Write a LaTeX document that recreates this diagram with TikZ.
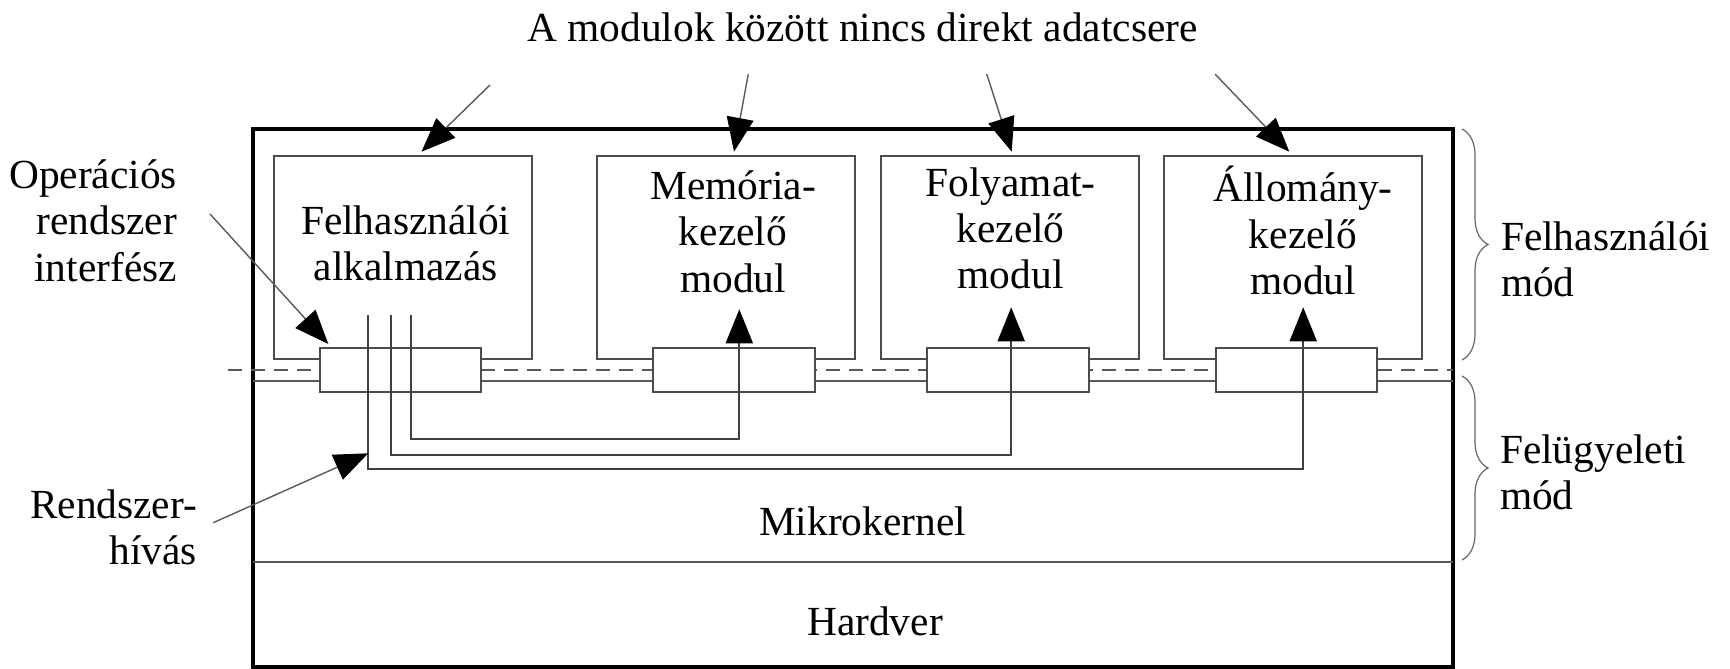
\documentclass[tikz,border=0pt]{standalone}
\usepackage{fontspec}
\setmainfont{Liberation Serif}
\usetikzlibrary{arrows.meta,decorations.pathreplacing}
\begin{document}
\begin{tikzpicture}[x=0.5pt,y=-0.5pt,
  every node/.style={inner sep=0pt, outer sep=0pt},
  lbl/.style={font=\fontsize{20.7}{23.2}\selectfont},
  frame/.style={draw=black, line width=2pt, minimum width=600pt, minimum height=269pt},
  modbox/.style={draw=black!70, line width=1pt, minimum width=129pt, minimum height=101.5pt},
  ifbox/.style={draw=black!70, fill=white, line width=1pt, minimum width=80.75pt, minimum height=22pt},
  rail/.style={draw=black!65, line width=1pt},
  call/.style={draw=black!75, line width=1pt},
  bigtip/.style={-{Triangle[length=17pt,width=13.5pt,color=black,fill=black]}},
  pointer/.style={draw=black!65, line width=0.7pt, bigtip},
  upcall/.style={call, bigtip},
  modebrace/.style={draw=black!60, line width=0.6pt, decorate, decoration={brace, amplitude=13pt}}
]
\useasboundingbox (0,0) rectangle (1730,669);

% operating system frame
\node[frame] (os) at (853.3,397.5) {};

% modules running in user mode
\node[modbox] (app) at (402.5,257.5) {};
\node[modbox] (mem) at (726.3,257.5) {};
\node[modbox] (proc) at (1010,257.5) {};
\node[modbox] (file) at (1293.3,257.5) {};

% boundary between user mode and supervisor mode
\coordinate (dashL) at (228,370);
\coordinate (dashR) at (1453.3,370);
\coordinate (solidL) at (253.3,380.7);
\coordinate (solidR) at (1453.3,380.7);
\draw[rail, dash pattern=on 7pt off 4.5pt] (dashL) -- (dashR);
\draw[rail] (solidL) -- (solidR);

% kernel / hardware separator
\coordinate (hwL) at (253.3,562);
\coordinate (hwR) at (1453.3,562);
\draw[rail] (hwL) -- (hwR);

% OS interface of every module
\node[ifbox] (ifapp) at (400.5,370.3) {};
\node[ifbox] (ifmem) at (734.2,370.3) {};
\node[ifbox] (ifproc) at (1008.1,370.3) {};
\node[ifbox] (iffile) at (1296.7,370.3) {};

% system calls routed through the microkernel
\coordinate (srcA) at (410.7,315);
\coordinate (srcB) at (390.7,315);
\coordinate (srcC) at (368.3,315);
\coordinate (jA) at (739.3,439.3);
\coordinate (jB) at (1011.2,455);
\coordinate (jC) at (1303.2,469);
\coordinate (tipMem) at (739.3,309.3);
\coordinate (tipProc) at (1011.2,307.3);
\coordinate (tipFile) at (1303.2,307.3);
\draw[upcall] (srcA) |- (jA) -- (tipMem);
\draw[upcall] (srcB) |- (jB) -- (tipProc);
\draw[upcall] (srcC) |- (jC) -- (tipFile);

% pointers from the caption to the modules
\coordinate (capA) at (490,85);
\coordinate (capB) at (748.3,74);
\coordinate (capC) at (986.7,74);
\coordinate (capD) at (1215,74);
\coordinate (hitA) at (421.5,151.7);
\coordinate (hitB) at (734,151.7);
\coordinate (hitC) at (1011.7,151.7);
\coordinate (hitD) at (1289.3,151.7);
\draw[pointer] (capA) -- (hitA);
\draw[pointer] (capB) -- (hitB);
\draw[pointer] (capC) -- (hitC);
\draw[pointer] (capD) -- (hitD);

% side labels and their pointers
\node[lbl, anchor=base east] (osif) at (177,188.3)
  {\begin{tabular}[t]{@{}r@{}}Operációs\\rendszer\\interfész\end{tabular}};
\node[lbl, anchor=base east] (syscall) at (197,518.3)
  {\begin{tabular}[t]{@{}r@{}}Rendszer-\\hívás\end{tabular}};
\coordinate (osifFrom) at (210,214);
\coordinate (osifTo) at (328.3,344);
\coordinate (syscallFrom) at (213.3,522.7);
\coordinate (syscallTo) at (368.3,453.3);
\draw[pointer] (osifFrom) -- (osifTo);
\draw[pointer] (syscallFrom) -- (syscallTo);

% mode braces
\coordinate (ubTop) at (1462,129);
\coordinate (ubBot) at (1462,360);
\coordinate (sbTop) at (1462,376);
\coordinate (sbBot) at (1462,560);
\draw[modebrace] (ubTop) -- (ubBot);
\draw[modebrace] (sbTop) -- (sbBot);
\node[lbl, anchor=base west] (umode) at (1501,250)
  {\begin{tabular}[t]{@{}l@{}}Felhasználói\\mód\end{tabular}};
\node[lbl, anchor=base west] (smode) at (1500,463)
  {\begin{tabular}[t]{@{}l@{}}Felügyeleti\\mód\end{tabular}};

% texts
\node[lbl, anchor=base] (caption) at (862.5,41) {A modulok között nincs direkt adatcsere};
\node[lbl, anchor=base] (appT) at (405.7,234.5)
  {\begin{tabular}[t]{@{}c@{}}Felhasználói\\alkalmazás\end{tabular}};
\node[lbl, anchor=base] (memT) at (733,199.3)
  {\begin{tabular}[t]{@{}c@{}}Memória-\\kezelő\\modul\end{tabular}};
\node[lbl, anchor=base] (procT) at (1010.6,196)
  {\begin{tabular}[t]{@{}c@{}}Folyamat-\\kezelő\\modul\end{tabular}};
\node[lbl, anchor=base] (fileT) at (1303,201.7)
  {\begin{tabular}[t]{@{}c@{}}Állomány-\\kezelő\\modul\end{tabular}};
\node[lbl, anchor=base] (kernel) at (862.5,535) {Mikrokernel};
\node[lbl, anchor=base] (hw) at (875,635) {Hardver};
\end{tikzpicture}
\end{document}
